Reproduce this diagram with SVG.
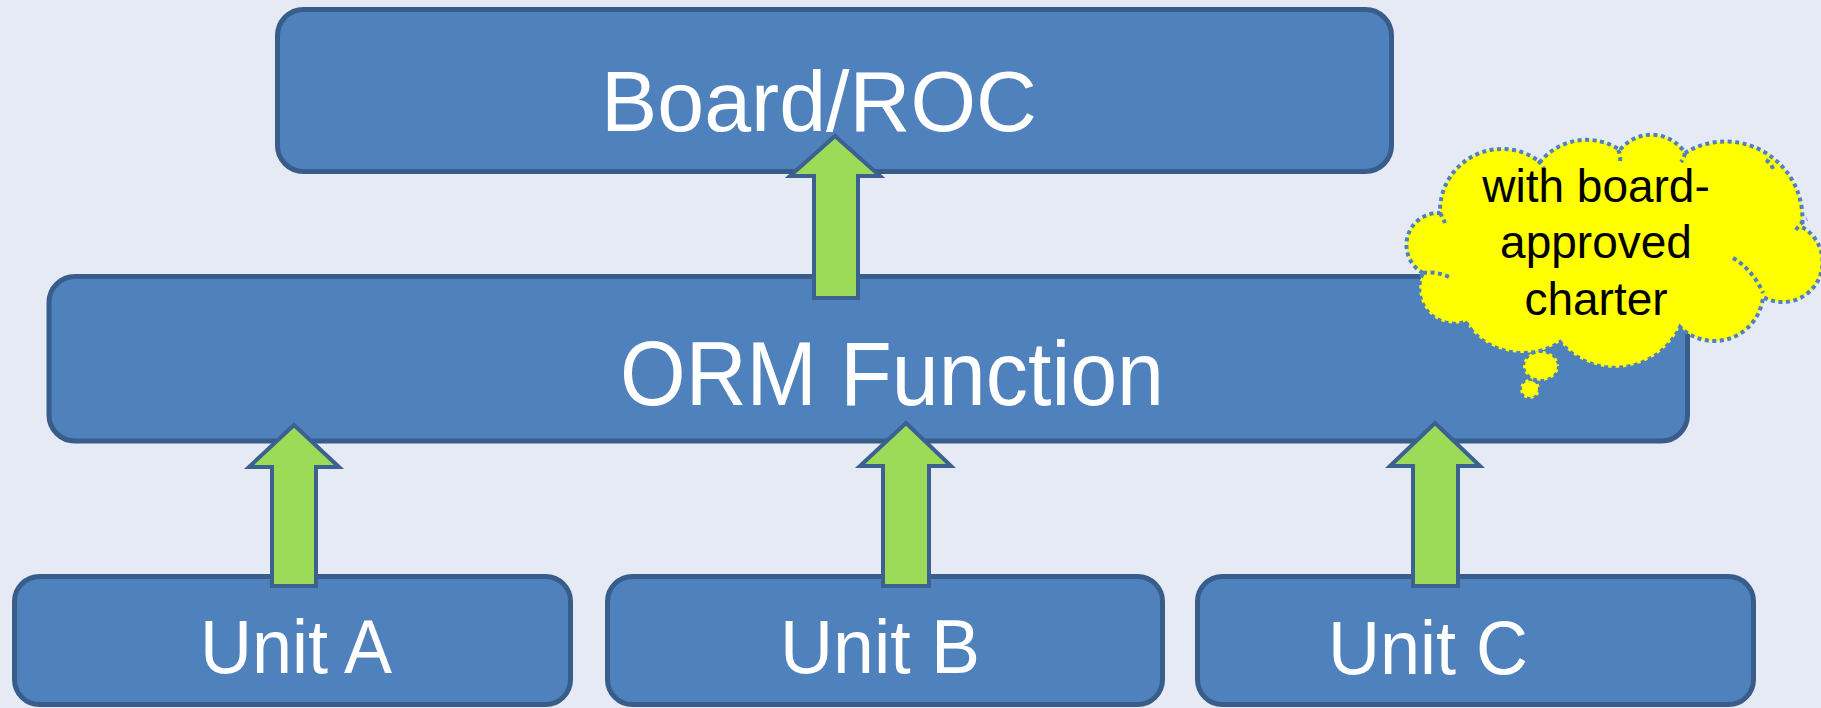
<svg xmlns="http://www.w3.org/2000/svg" width="1821" height="708" viewBox="0 0 1821 708">
  <style>
    .box { fill: #4F81BD; stroke: #385D8A; stroke-width: 5; }
    .lbl { font-family: "Liberation Sans", Arial, sans-serif; fill: #FFFFFF; }
    .arrow { fill: #9BDB58; stroke: #3C6191; stroke-width: 4; stroke-linejoin: miter; }
    .cloud { fill: #FFFF00; stroke: #4F81BD; stroke-width: 4; stroke-dasharray: 4 3.5; }
    .cloud-line { fill: none; stroke: #4F81BD; stroke-width: 4; stroke-dasharray: 4 3.5; }
    .note { font-family: "Liberation Sans", Arial, sans-serif; fill: #000000; font-size: 46px; text-anchor: middle; }
  </style>

  <rect x="0" y="0" width="1821" height="708" fill="#E6EAF5"/>

  <!-- nodes -->
  <g id="board-roc">
    <rect class="box" x="277.5" y="9.5" width="1114" height="162" rx="26"/>
    <text class="lbl" x="601" y="131" font-size="86" textLength="436" lengthAdjust="spacingAndGlyphs">Board/ROC</text>
  </g>

  <g id="orm-function">
    <rect class="box" x="49" y="276.5" width="1638.5" height="164.5" rx="26"/>
    <text class="lbl" x="620" y="405" font-size="90" textLength="544" lengthAdjust="spacingAndGlyphs">ORM Function</text>
  </g>

  <g id="unit-a">
    <rect class="box" x="14.5" y="576.5" width="556" height="128" rx="25"/>
    <text class="lbl" x="200" y="673" font-size="76" textLength="192" lengthAdjust="spacingAndGlyphs">Unit A</text>
  </g>

  <g id="unit-b">
    <rect class="box" x="607.5" y="576.5" width="555" height="128" rx="25"/>
    <text class="lbl" x="780" y="673" font-size="76" textLength="200" lengthAdjust="spacingAndGlyphs">Unit B</text>
  </g>

  <g id="unit-c">
    <rect class="box" x="1197.5" y="576.5" width="556" height="128" rx="25"/>
    <text class="lbl" x="1328" y="674" font-size="76" textLength="200" lengthAdjust="spacingAndGlyphs">Unit C</text>
  </g>

  <!-- connectors: block arrows pointing upward -->
  <g id="connectors">
    <path class="arrow" d="M294,425 L339,467 L316,467 L316,586 L272,586 L272,467 L249,467 Z"/>
    <path class="arrow" d="M906,423 L951,466 L929,466 L929,586 L883,586 L883,466 L860,466 Z"/>
    <path class="arrow" d="M1435,423 L1480,466 L1458,466 L1458,586 L1413,586 L1413,466 L1390,466 Z"/>
    <path class="arrow" d="M835,136 L880,176 L858,176 L858,298 L814,298 L814,176 L790,176 Z"/>
  </g>

  <!-- thought cloud -->
  <g id="charter-note">
    <ellipse class="cloud" cx="1530" cy="389" rx="10" ry="10"/>
    <ellipse class="cloud" cx="1541" cy="366" rx="18" ry="15"/>
    <path class="cloud" d="M1423,273 A32 32 0 0 1 1440,213 A62 62 0 0 1 1540,162 A60 60 0 0 1 1620,150 A40 40 0 0 1 1685,153 A77 77 0 0 1 1802,227 A40 40 0 0 1 1763,297 A49 49 0 0 1 1680,327 A72 72 0 0 1 1560,342 A69 69 0 0 1 1465,322 A35 35 0 0 1 1423,273 Z"/>
    <path class="cloud-line" d="M1423,273 Q1436,271 1449,277"/>
    <path class="cloud-line" d="M1733,258 Q1753,270 1763,293"/>
    <path class="cloud-line" d="M1440,213 Q1443,218 1445,223"/>
    <path class="cloud-line" d="M1538,161 Q1542,164 1544,169"/>
    <path class="cloud-line" d="M1618,150 Q1621,155 1620,161"/>
    <path class="cloud-line" d="M1685,153 Q1684,158 1681,162"/>
    <path class="cloud-line" d="M1766,160 Q1771,163 1773,169"/>
    <path class="cloud-line" d="M1796,230 Q1800,223 1807,219"/>
    <path class="cloud-line" d="M1680,327 Q1682,332 1681,337"/>
    <path class="cloud-line" d="M1560,342 Q1562,346 1561,351"/>
    <path class="cloud-line" d="M1465,322 Q1469,325 1471,330"/>
    <text class="note" x="1596" y="202">with board-</text>
    <text class="note" x="1596" y="258">approved</text>
    <text class="note" x="1596" y="315">charter</text>
  </g>
</svg>
